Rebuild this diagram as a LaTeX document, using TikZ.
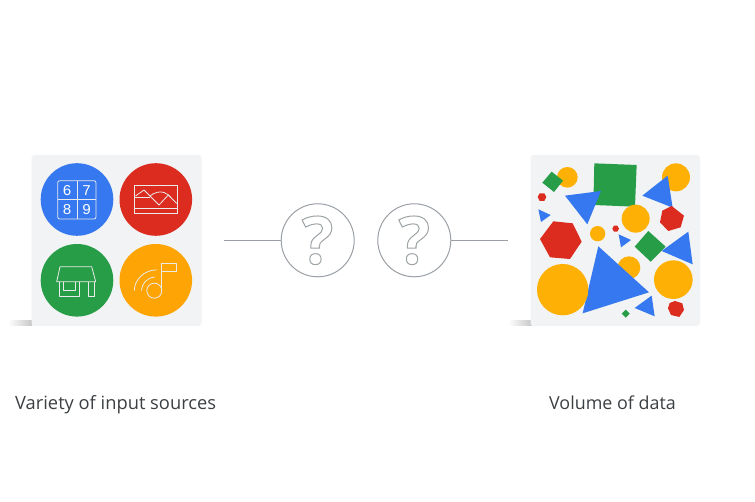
\documentclass[tikz,border=0pt]{standalone}
\usepackage{fontspec}
\setmainfont{Open Sans}
\newfontfamily\digitfont{Liberation Mono}
\definecolor{gblue}{HTML}{3578EF}
\definecolor{gred}{HTML}{DC2B1F}
\definecolor{ggreen}{HTML}{289D48}
\definecolor{gorange}{HTML}{FEA405}
\definecolor{gyellow}{HTML}{FFB004}
\definecolor{gpanel}{HTML}{F1F3F4}
\definecolor{gline}{HTML}{9AA0A6}
\definecolor{gtext}{HTML}{3C4043}
\newcommand{\hollowq}{\special{pdf:code 1 Tr 1 w 0.62 0.64 0.65 RG}?\special{pdf:code 0 Tr}}
\tikzset{
  panel/.style={fill=gpanel,rounded corners=3pt,draw=none},
  disc/.style={circle,minimum size=72.6pt,inner sep=0pt,draw=none},
  qcircle/.style={circle,draw=gline,line width=1pt,minimum size=73pt,inner sep=0pt,font=\bfseries\fontsize{66}{66}\selectfont,text=gline},
  link/.style={draw=gline,line width=1pt},
  icon/.style={draw=white!92!black,line width=0.8pt,line join=round},
  digit/.style={text=white,inner sep=0pt,font=\digitfont\fontsize{15}{15}\selectfont},
  caption/.style={anchor=base west,inner sep=0pt,text=gtext},
}
\begin{document}
\begin{tikzpicture}[x=1pt,y=-1pt]
\useasboundingbox (0,0) rectangle (755,502);
\fill[white] (0,0) rectangle (755,502);
% shadows
\shade[left color=white,right color=black!22] (8,320.5) rectangle (32,326);
\shade[left color=white,right color=black!22] (508,320.5) rectangle (532,326);
% panels
\fill[panel] (31.5,155) rectangle (201.5,326);
\fill[panel] (530.5,155) rectangle (700,326);
% discs
\node[disc,fill=gblue] (d1) at (77,199.5) {};
\node[disc,fill=gred] (d2) at (155.8,199.5) {};
\node[disc,fill=ggreen] (d3) at (77,280.3) {};
\node[disc,fill=gorange] (d4) at (155.8,280.3) {};
% calendar icon
\draw[icon,rounded corners=2pt] (57.7,180.7) rectangle (96,219);
\draw[icon] (76.9,180.7) -- (76.9,219) (57.7,199.8) -- (96,199.8);
\node[digit] (n6) at (67.2,190.5) {6};
\node[digit] (n7) at (86.6,190.5) {7};
\node[digit] (n8) at (67.2,209.5) {8};
\node[digit] (n9) at (86.6,209.5) {9};
% picture icon
\draw[icon] (134.7,185.5) rectangle (177.3,213.8);
\draw[icon] (134.7,208.3) -- (177.3,208.3);
\draw[icon] (134.7,197) -- (150,197);
\draw[icon] (135.5,196) -- (144,190) -- (159,205) -- (168.3,195) -- (176.7,203.5);
\draw[icon] (150,196) .. controls (154,192.5) and (160,191) .. (164,192.5) .. controls (167,193.5) and (169,195.5) .. (171,197.5);
% shop icon
\draw[icon] (60,266.7) -- (91.7,266.7) -- (95.7,281.7) -- (56.7,281.7) -- cycle;
\draw[icon] (59.3,281.7) -- (59.3,296) -- (79,296) -- (79,281.7);
\draw[icon] (63.3,281.7) -- (63.3,290.7) -- (75,290.7) -- (75,281.7);
\draw[icon] (88.3,281.7) -- (88.3,296) -- (94.3,296) -- (94.3,281.7);
% music icon
\draw[icon] (154.3,290.7) circle (7.5);
\draw[icon] (161.8,290.7) -- (161.8,263.3) -- (176,263.3) -- (176,271) -- (161.8,271);
\draw[icon] (134.3,290.7) .. controls (134.3,280) and (144,270) .. (156.7,269.8);
\draw[icon] (141.5,290.7) .. controls (141.5,284) and (147,277.5) .. (155,277);
% question circles
\node[qcircle] (q1) at (317.7,240.3) {\hollowq};
\node[qcircle] (q2) at (414.3,240.3) {\hollowq};
\coordinate (c1) at (224.3,240.3);
\coordinate (c2) at (507.7,240.3);
\draw[link] (c1) -- (q1.west);
\draw[link] (q2.east) -- (c2);
% right panel shapes, in 3x units
\begin{scope}[shift={(505,145)},x=0.3333pt,y=-0.3333pt]
\fill[gyellow] (187,97) circle (31);
\fill[ggreen] (140,80) -- (174,107) -- (147,141) -- (112,113) -- cycle;
\fill[ggreen] (268,55) -- (395,60) -- (390,185) -- (265,180) -- cycle;
\fill[gyellow] (513,97) circle (42);
\fill[gblue] (488,92) -- (503,188) -- (412,152) -- cycle;
\fill[gred] (104,145) -- (118,145) -- (124,156) -- (118,168) -- (104,168) -- (98,156) -- cycle;
\fill[gblue] (180,152) -- (288,138) -- (247,238) -- cycle;
\fill[gblue] (100,193) -- (137,210) -- (108,231) -- cycle;
\fill[gred] (145,229) -- (203,235) -- (230,290) -- (195,342) -- (135,337) -- (105,282) -- cycle;
\fill[gyellow] (278,266) circle (23);
\fill[gred] (327,242) -- (337,242) -- (342,251) -- (337,260) -- (327,260) -- (322,251) -- cycle;
\fill[gyellow] (392,221) circle (42);
\fill[gblue] (341,268) -- (378,285) -- (348,307) -- cycle;
\fill[gred] (500,183) -- (537,212) -- (527,247) -- (490,258) -- (465,232) -- (472,197) -- cycle;
\fill[ggreen] (430,258) -- (482,305) -- (437,350) -- (389,305) -- cycle;
\fill[gblue] (550,260) -- (563,358) -- (470,318) -- cycle;
\fill[gyellow] (372,368) circle (34);
\fill[gblue] (280,304) -- (432,442) -- (233,505) -- cycle;
\fill[gyellow] (173,434) circle (77);
\fill[gyellow] (505,404) circle (58);
\fill[gblue] (440,452) -- (449,514) -- (389,489) -- cycle;
\fill[ggreen] (362,494) -- (374,506) -- (362,518) -- (350,506) -- cycle;
\fill[gred] (510,468) -- (532,475) -- (537,495) -- (523,516) -- (498,510) -- (489,490) -- (494,474) -- cycle;
\end{scope}
% captions
\node[caption,font=\fontsize{18.3}{22}\selectfont] (t1) at (15,409.3) {Variety of input sources};
\node[caption,font=\fontsize{17.9}{22}\selectfont] (t2) at (549,409.3) {Volume of data};
\end{tikzpicture}
\end{document}
